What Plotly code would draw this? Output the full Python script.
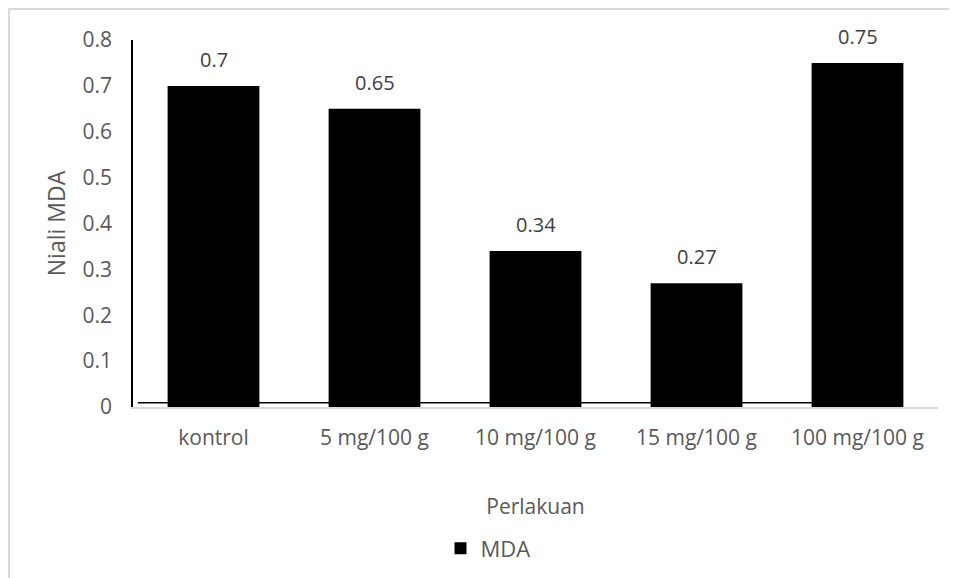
import plotly.graph_objects as go

categories = ["kontrol", "5 mg/100 g", "10 mg/100 g", "15 mg/100 g", "100 mg/100 g"]
mda_values = [0.7, 0.65, 0.34, 0.27, 0.75]
y_ticks = [0, 0.1, 0.2, 0.3, 0.4, 0.5, 0.6, 0.7, 0.8]
series_name = "MDA"

FONT = "Open Sans, Liberation Sans, sans-serif"
GRAY = "#595959"

fig = go.Figure()
fig.add_trace(go.Bar(
    x=categories, y=mda_values, name=series_name,
    marker=dict(color="black", line=dict(width=0)),
    showlegend=True,
))

annotations = []
for c, v in zip(categories, mda_values):
    annotations.append(dict(
        x=c, y=v, xref="x", yref="y", text=f"{v:g}", showarrow=False,
        yanchor="bottom", yshift=11,
        font=dict(family=FONT, size=20, color="#404040"),
    ))

# The page body has an 8px margin, so margins are reduced by 8px on left/top.
fig.update_layout(
    width=957, height=578,
    margin=dict(l=125, r=27, t=32, b=179, autoexpand=False),
    paper_bgcolor="white", plot_bgcolor="white",
    bargap=0.43,
    font=dict(family=FONT, size=20, color=GRAY),
    xaxis=dict(
        type="category", showgrid=False, zeroline=False,
        showline=True, linecolor="#d9d9d9", linewidth=2,
        ticks="", ticklabelstandoff=11,
        tickfont=dict(family=FONT, size=21, color=GRAY),
        title=dict(text="Perlakuan", font=dict(family=FONT, size=21, color=GRAY), standoff=49),
        automargin=False,
    ),
    yaxis=dict(
        range=[0, 0.8], tickvals=y_ticks, ticktext=[f"{t:g}" for t in y_ticks],
        showgrid=False, zeroline=False,
        showline=True, linecolor="black", linewidth=1.5,
        ticks="", ticklabelstandoff=15,
        tickfont=dict(family=FONT, size=21, color=GRAY),
        title=dict(text="Niali MDA", font=dict(family=FONT, size=23, color=GRAY), standoff=10),
        automargin=False,
    ),
    legend=dict(
        orientation="h", x=0.382, xanchor="left", y=-0.328, yanchor="top",
        font=dict(family=FONT, size=22, color=GRAY), itemwidth=30,
    ),
    annotations=annotations,
    shapes=[
        dict(type="rect", xref="paper", yref="paper",
             x0=-0.154, x1=1.6, y0=-1.0, y1=1.0845,
             line=dict(color="#d9d9d9", width=2), fillcolor="rgba(0,0,0,0)", layer="below"),
        dict(type="line", xref="paper", yref="y",
             x0=0.006, x1=0.845, y0=0.009, y1=0.009,
             line=dict(color="black", width=1.5), layer="below"),
    ],
)

fig.write_html("out.html")
